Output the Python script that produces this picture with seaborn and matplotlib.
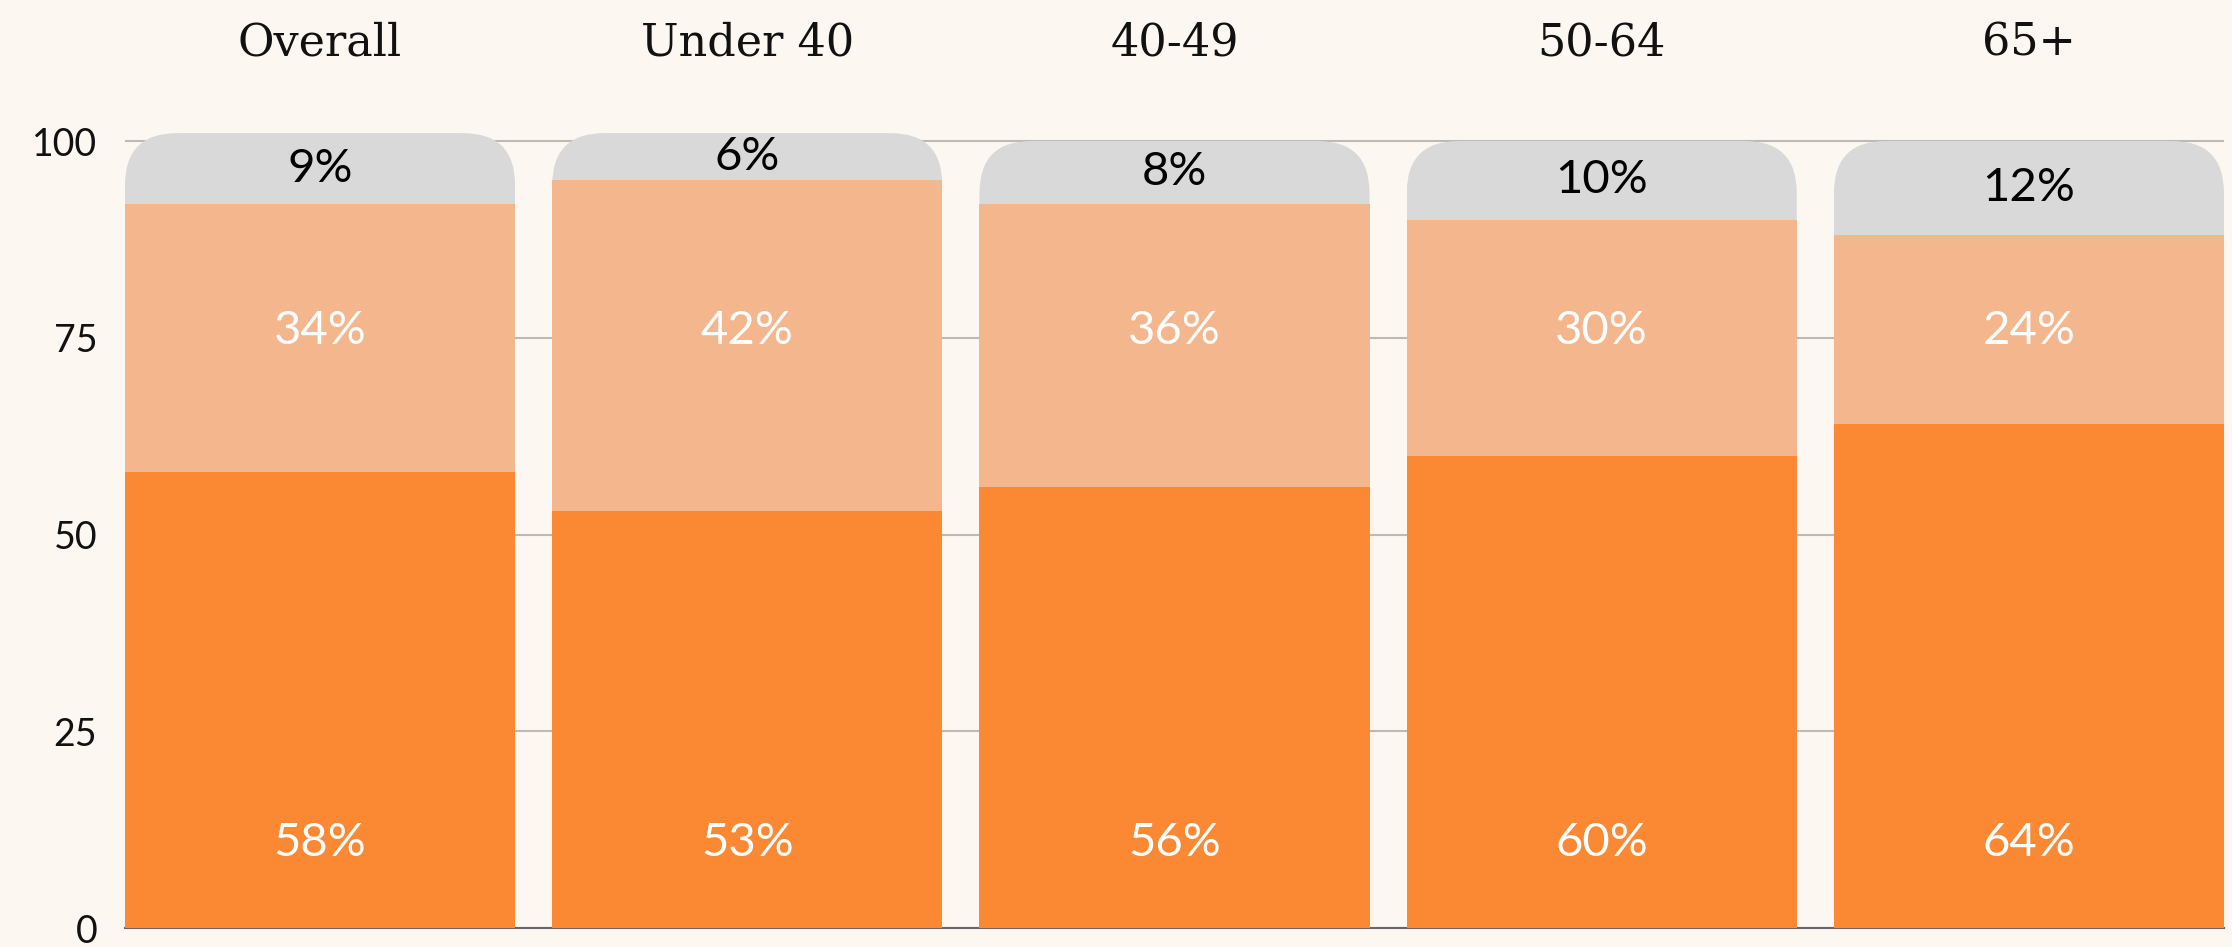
import matplotlib
matplotlib.use("Agg")
import matplotlib.pyplot as plt
from matplotlib.patches import FancyBboxPatch
import seaborn as sns
import pandas as pd
import numpy as np

# ---- data ----
categories = ["Overall", "Under 40", "40-49", "50-64", "65+"]
bottom_vals = [58, 53, 56, 60, 64]
middle_vals = [34, 42, 36, 30, 24]
top_vals = [9, 6, 8, 10, 12]
y_ticks = [0, 25, 50, 75, 100]

# ---- style ----
BG = "#FCF7F1"
C_BOTTOM = "#FB8832"
C_MIDDLE = "#F4B68C"
C_TOP = "#D9D9D9"
GRID = "#BDB9B3"
LABEL_FONT = ["Lato", "DejaVu Sans"]
TITLE_FONT = ["DejaVu Serif"]
LOW_LABEL_Y = 10.8
MID_LABEL_Y = 75.8
BAR_W = 0.913

sns.set_theme(style="white")
plt.rcParams["font.family"] = LABEL_FONT

W, H, DPI = 2232, 947, 100
fig = plt.figure(figsize=(W / DPI, H / DPI), dpi=DPI, facecolor=BG)

y0_px, y100_px = 928, 141  # pixel rows from top
ppu_y = (y0_px - y100_px) / 100.0
ymax = 102
ax_h_px = ymax * ppu_y
left_px, right_px = 125, 2224
ax = fig.add_axes([left_px / W, (H - y0_px) / H, (right_px - left_px) / W, ax_h_px / H])
ax.set_facecolor(BG)

df = pd.DataFrame({
    "cat": categories,
    "total": np.array(bottom_vals) + np.array(middle_vals) + np.array(top_vals),
    "lowmid": np.array(bottom_vals) + np.array(middle_vals),
    "low": bottom_vals,
})

common = dict(order=categories, saturation=1, width=BAR_W, ax=ax, linewidth=0, edgecolor="none")
sns.barplot(data=df, x="cat", y="total", color=C_TOP, zorder=2, **common)
grey_patches = list(ax.patches)
sns.barplot(data=df, x="cat", y="lowmid", color=C_MIDDLE, zorder=3, **common)
sns.barplot(data=df, x="cat", y="low", color=C_BOTTOM, zorder=4, **common)

ax.set_xlim(-BAR_W / 2, len(categories) - 1 + BAR_W / 2)
ax.set_ylim(0, ymax)

# rounded top corners on grey segments
ppu_x = (right_px - left_px) / (len(categories) - 1 + BAR_W)
r_px = 52
rx = r_px / ppu_x
ry = r_px / ppu_y
for p in grey_patches:
    x, w, h = p.get_x(), p.get_width(), p.get_height()
    clip = FancyBboxPatch((x, -20), w, h + 20,
                          boxstyle=f"round,pad=0,rounding_size={rx}",
                          mutation_aspect=ry / rx, transform=ax.transData)
    p.set_clip_path(clip)

# labels
LBL_SIZE = 34
for i, cat in enumerate(categories):
    b, m, t = bottom_vals[i], middle_vals[i], top_vals[i]
    ax.text(i, LOW_LABEL_Y, f"{b}%", ha="center", va="center", color="white",
            fontsize=LBL_SIZE, family=LABEL_FONT, zorder=6)
    ax.text(i, MID_LABEL_Y, f"{m}%", ha="center", va="center", color="white",
            fontsize=LBL_SIZE, family=LABEL_FONT, zorder=6)
    ax.text(i, b + m + t / 2, f"{t}%", ha="center", va="center", color="black",
            fontsize=LBL_SIZE, family=LABEL_FONT, zorder=6)

# axes styling
ax.set_yticks(y_ticks)
ax.set_yticklabels([str(v) for v in y_ticks], fontsize=27, family=LABEL_FONT, color="#111111")
ax.yaxis.grid(True, color=GRID, linewidth=1.5, zorder=0)
ax.set_axisbelow(True)
ax.tick_params(axis="y", length=0, pad=20)
ax.xaxis.tick_top()
ax.tick_params(axis="x", length=0, pad=44)
ax.set_xticks(range(len(categories)))
ax.set_xticklabels(categories, fontsize=32, family=TITLE_FONT, color="#111111")
ax.set_xlabel("")
ax.set_ylabel("")
for s in ["top", "left", "right"]:
    ax.spines[s].set_visible(False)
ax.spines["bottom"].set_color("#666666")
ax.spines["bottom"].set_linewidth(1.5)
ax.spines["bottom"].set_zorder(1)

fig.savefig("out.png", dpi=DPI, facecolor=BG)
